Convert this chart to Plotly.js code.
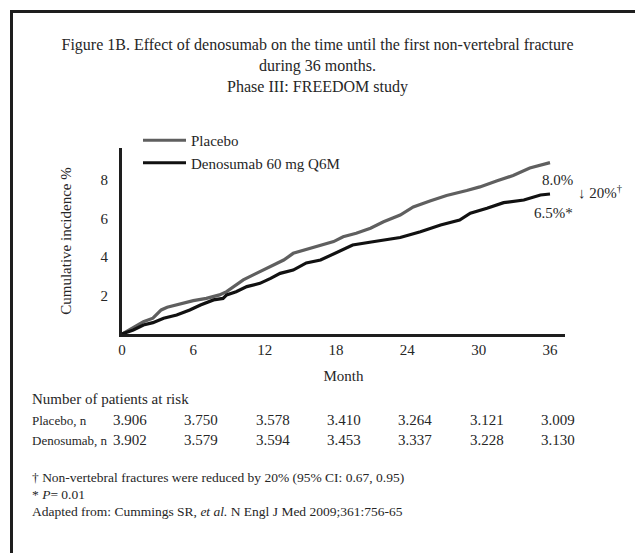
<!DOCTYPE html>
<html><head><meta charset="utf-8">
<script src="https://cdn.plot.ly/plotly-3.0.1.min.js"></script>
<style>
html,body{margin:0;padding:0;background:#fff;}
#wrap{position:relative;width:635px;height:553px;overflow:hidden;}
#chart{width:635px;height:553px;}
#frame{position:absolute;left:10px;top:10px;width:700px;height:700px;border-left:3px solid #1e1e1e;border-top:3px solid #1e1e1e;pointer-events:none;}
</style></head><body>
<div id="wrap"><div id="chart"></div><div id="frame"></div></div>
<script>
// ---- data ----
const placeboMonths = [0,1.8,2.6,3.3,3.8,4.9,6.0,7.1,8.2,8.8,9.4,10.2,11.3,12.5,13.6,14.4,15.5,16.7,17.8,18.6,19.7,20.9,22.0,23.4,24.5,25.9,27.3,29.0,30.1,31.5,32.9,34.3,36.0];
const placeboIncidence = [0,0.64,0.82,1.25,1.39,1.56,1.73,1.85,2.03,2.20,2.46,2.81,3.15,3.50,3.84,4.19,4.40,4.62,4.80,5.05,5.23,5.49,5.83,6.18,6.60,6.91,7.19,7.45,7.64,7.95,8.23,8.62,8.90];
const denoMonths = [0,0.95,1.8,2.6,3.5,4.6,5.7,6.6,7.7,8.5,8.8,9.6,10.5,11.6,12.5,13.3,14.4,15.5,16.7,17.8,19.4,21.1,23.4,25.1,26.8,28.4,29.3,30.7,32.1,33.8,35.2,36.0];
const denoIncidence = [0,0.21,0.47,0.59,0.82,0.99,1.25,1.51,1.77,1.85,2.03,2.20,2.46,2.63,2.89,3.15,3.32,3.69,3.84,4.16,4.62,4.79,5.01,5.31,5.66,5.92,6.27,6.53,6.82,6.96,7.22,7.27];
const seriesNames = ['Placebo','Denosumab 60 mg Q6M'];
const monthTicks = [0,6,12,18,24,30,36];
const incidenceTicks = [2,4,6,8];
const riskRowLabels = ['Placebo, n','Denosumab, n'];
const riskPlacebo = ['3.906','3.750','3.578','3.410','3.264','3.121','3.009'];
const riskDenosumab = ['3.902','3.579','3.594','3.453','3.337','3.228','3.130'];
const endLabels = ['8.0%','6.5%*'];
const endLabelValues = [8.0, 6.3];
const reductionLabel = '↓ 20%<sup>†</sup>';
const titleText = 'Figure 1B. Effect of denosumab on the time until the first non-vertebral fracture<br>during 36 months.<br>Phase III: FREEDOM study';
const riskTitle = 'Number of patients at risk';
const footnotes = [
  '† Non-vertebral fractures were reduced by 20% (95% CI: 0.67, 0.95)',
  '* <i>P</i>= 0.01',
  'Adapted from: Cummings SR, <i>et al.</i> N Engl J Med 2009;361:756-65'
];

// ---- layout helpers ----
const W = 635, H = 553;
const M = {l:122, r:70, t:148, b:219};
const pw = W - M.l - M.r, ph = H - M.t - M.b;
const px2paperX = p => (p - M.l) / pw;
const py2paperY = p => (H - M.b - p) / ph;
const FONT = 'Liberation Serif, Times New Roman, serif';
const TXT = '#262626';

const traces = [
  {x: placeboMonths, y: placeboIncidence, name: seriesNames[0], mode: 'lines',
   line: {color: '#5f5f5f', width: 3.2}},
  {x: denoMonths, y: denoIncidence, name: seriesNames[1], mode: 'lines',
   line: {color: '#111111', width: 3.2}}
];

const ann = [];
// end-of-curve labels
ann.push({x: 36.6, y: endLabelValues[0], xref:'x', yref:'y', text: endLabels[0], showarrow:false, xanchor:'center', yanchor:'middle', font:{family:FONT, size:15, color:TXT}});
ann.push({x: 36.3, y: endLabelValues[1], xref:'x', yref:'y', text: endLabels[1], showarrow:false, xanchor:'center', yanchor:'middle', font:{family:FONT, size:15, color:TXT}});
ann.push({x: px2paperX(576), y: py2paperY(192), xref:'paper', yref:'paper', text: reductionLabel, showarrow:false, xanchor:'left', yanchor:'middle', font:{family:FONT, size:15, color:TXT}});
// risk table
ann.push({x: px2paperX(30), y: py2paperY(399), xref:'paper', yref:'paper', text: riskTitle, showarrow:false, xanchor:'left', yanchor:'middle', font:{family:FONT, size:15, color:TXT}});
const rowY = [420, 440];
[riskPlacebo, riskDenosumab].forEach((row, r) => {
  ann.push({x: px2paperX(30), y: py2paperY(rowY[r]), xref:'paper', yref:'paper', text: riskRowLabels[r], showarrow:false, xanchor:'left', yanchor:'middle', font:{family:FONT, size:13, color:TXT}});
  row.forEach((v, i) => {
    ann.push({x: monthTicks[i], y: py2paperY(rowY[r]), xref:'x', yref:'paper', text: v, showarrow:false, xanchor:'center', yanchor:'middle', xshift: 8, font:{family:FONT, size:15, color:TXT}});
  });
});
// footnotes
const fnY = [477, 494, 511];
footnotes.forEach((t, i) => {
  ann.push({x: px2paperX(30), y: py2paperY(fnY[i]), xref:'paper', yref:'paper', text: t, showarrow:false, xanchor:'left', yanchor:'middle', font:{family:FONT, size:13.5, color:TXT}});
});

const layout = {
  width: W, height: H,
  margin: M,
  paper_bgcolor: '#ffffff', plot_bgcolor: '#ffffff',
  font: {family: FONT, size: 15, color: TXT},
  title: {text: titleText, x: 0.5, xref: 'container', xanchor: 'center', y: 1 - 50/H, yref: 'container', yanchor: 'top',
          font: {family: FONT, size: 16, color: TXT}},
  showlegend: true,
  legend: {x: px2paperX(138), y: py2paperY(124), xanchor: 'left', yanchor: 'top', bgcolor: 'rgba(0,0,0,0)',
           font: {family: FONT, size: 15, color: TXT}, itemwidth: 43, tracegroupgap: 0},
  xaxis: {range: [0, 36 * pw / 428], tickvals: monthTicks, ticktext: monthTicks.map(String),
          showline: true, linewidth: 3, linecolor: '#1e1e1e', showgrid: false, zeroline: false,
          ticks: '', 
          tickfont: {family: FONT, size: 15, color: TXT},
          title: {text: 'Month', standoff: 14, font: {family: FONT, size: 15, color: TXT}}},
  yaxis: {range: [0, 9.66], tickvals: incidenceTicks, ticktext: incidenceTicks.map(String),
          showline: true, linewidth: 3, linecolor: '#1e1e1e', showgrid: false, zeroline: false,
          ticks: 'outside', ticklen: 8, tickcolor: 'rgba(0,0,0,0)',
          tickfont: {family: FONT, size: 15, color: TXT},
          title: {text: 'Cumulative incidence %', standoff: 26, font: {family: FONT, size: 15, color: TXT}}},
  annotations: ann
};

Plotly.newPlot('chart', traces, layout, {displayModeBar: false, staticPlot: true});
</script>
</body></html>
